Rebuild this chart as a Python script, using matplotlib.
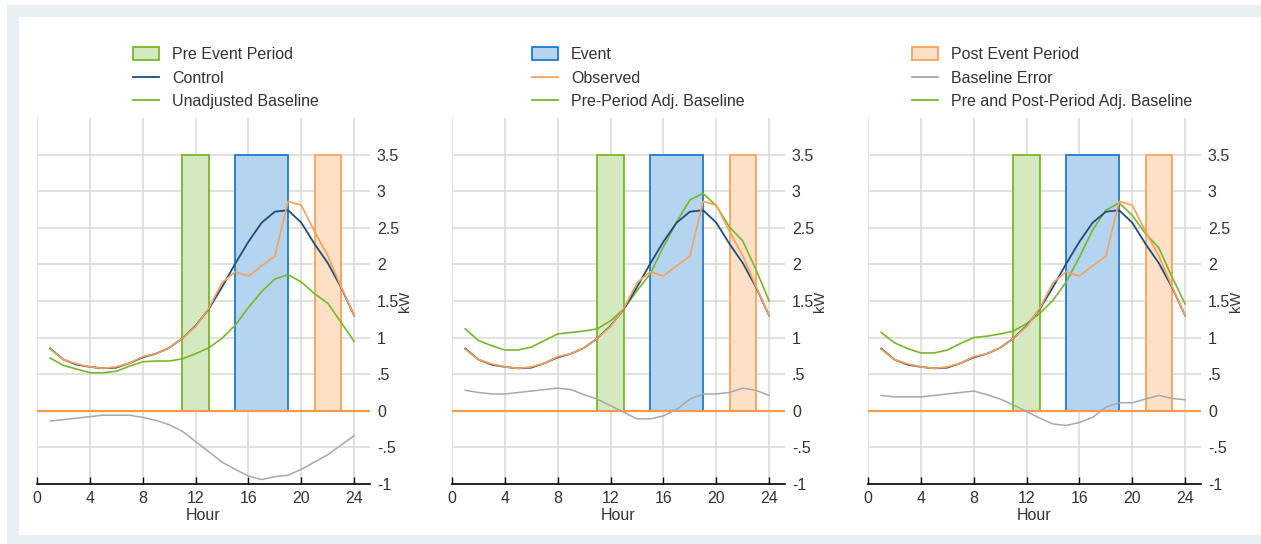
import matplotlib
matplotlib.use("Agg")
import matplotlib.pyplot as plt
from matplotlib.patches import Patch, Rectangle
from matplotlib.lines import Line2D

plt.rcParams["font.family"] = ["Liberation Sans", "DejaVu Sans"]

# ── Data ──────────────────────────────────────────────────────────────────────
hours = list(range(1, 25))

control = [0.85, 0.70, 0.63, 0.60, 0.58, 0.59, 0.65, 0.73, 0.78, 0.86, 0.99, 1.16,
           1.39, 1.69, 2.01, 2.31, 2.57, 2.72, 2.74, 2.57, 2.28, 2.02, 1.69, 1.30]
observed = [0.84, 0.70, 0.64, 0.60, 0.58, 0.60, 0.65, 0.74, 0.78, 0.86, 0.99, 1.15,
            1.40, 1.75, 1.90, 1.84, 1.98, 2.11, 2.86, 2.81, 2.45, 2.12, 1.70, 1.30]
unadjusted = [0.72, 0.62, 0.57, 0.52, 0.52, 0.54, 0.61, 0.67, 0.68, 0.68, 0.71, 0.78,
              0.86, 0.99, 1.17, 1.41, 1.63, 1.80, 1.86, 1.76, 1.60, 1.47, 1.21, 0.95]
pre_adj = [1.12, 0.96, 0.89, 0.83, 0.83, 0.87, 0.96, 1.05, 1.07, 1.09, 1.12, 1.23,
           1.39, 1.64, 1.87, 2.24, 2.58, 2.88, 2.97, 2.80, 2.51, 2.32, 1.93, 1.50]
prepost_adj = [1.07, 0.93, 0.85, 0.79, 0.79, 0.83, 0.92, 1.00, 1.02, 1.05, 1.09, 1.19,
               1.33, 1.51, 1.76, 2.10, 2.47, 2.74, 2.84, 2.67, 2.42, 2.23, 1.83, 1.46]

err_unadjusted = [-0.14, -0.12, -0.10, -0.08, -0.06, -0.06, -0.06, -0.09, -0.13, -0.19,
                  -0.28, -0.42, -0.56, -0.70, -0.80, -0.89, -0.94, -0.90, -0.88, -0.80,
                  -0.70, -0.60, -0.47, -0.34]
err_pre = [0.28, 0.25, 0.23, 0.23, 0.25, 0.27, 0.29, 0.31, 0.29, 0.22, 0.16, 0.07,
           -0.02, -0.11, -0.11, -0.07, 0.02, 0.16, 0.23, 0.23, 0.25, 0.31, 0.28, 0.21]
err_prepost = [0.21, 0.19, 0.19, 0.19, 0.21, 0.23, 0.25, 0.27, 0.22, 0.16, 0.08, -0.01,
               -0.10, -0.18, -0.20, -0.16, -0.09, 0.05, 0.11, 0.11, 0.16, 0.21, 0.17, 0.15]

baselines = [unadjusted, pre_adj, prepost_adj]
errors = [err_unadjusted, err_pre, err_prepost]

# periods: (start hour, end hour)
pre_period = (11, 13)
event_period = (15, 19)
post_period = (21, 23)
period_top = 3.5

y_ticks = [-1, -0.5, 0, 0.5, 1, 1.5, 2, 2.5, 3, 3.5]
y_ticklabels = ["-1", "-.5", "0", ".5", "1", "1.5", "2", "2.5", "3", "3.5"]
x_ticks = [0, 4, 8, 12, 16, 20, 24]

legend_labels = [
    ["Pre Event Period", "Control", "Unadjusted Baseline"],
    ["Event", "Observed", "Pre-Period Adj. Baseline"],
    ["Post Event Period", "Baseline Error", "Pre and Post-Period Adj. Baseline"],
]

# ── Styles ────────────────────────────────────────────────────────────────────
C_NAVY = "#1b4f7e"
C_ORANGE = "#f9a15a"
C_GREEN = "#76b82a"
C_GREY = "#a8a8a8"
C_GRID = "#d9d9d9"
C_TEXT = "#333333"
PRE_STYLE = dict(facecolor="#d5e9c1", edgecolor="#76b82a")
EVENT_STYLE = dict(facecolor="#b4d4ef", edgecolor="#1f7bd0")
POST_STYLE = dict(facecolor="#fde0c6", edgecolor="#f7a35c")

W, H = 1261, 544
fig = plt.figure(figsize=(W / 100, H / 100), dpi=100)

# framed background
fig.patches.append(Rectangle((7 / W, 0), 1, 1 - 5 / H, transform=fig.transFigure,
                             facecolor="#e8f0f3", edgecolor="none", zorder=-10))
fig.patches.append(Rectangle((19 / W, 9 / H), 1, 1 - 17 / H - 9 / H,
                             transform=fig.transFigure,
                             facecolor="white", edgecolor="none", zorder=-9))

ax_left = [37, 452, 868]
ax_w = 333
legend_x = [133, 532, 912]

for i in range(3):
    ax = fig.add_axes([ax_left[i] / W, 60 / H, ax_w / W, 366 / H])
    ax.set_facecolor("none")
    ax.set_xlim(0, 25.2)
    ax.set_ylim(-1, 4)

    # grid
    for y in y_ticks[1:]:
        ax.axhline(y, color=C_GRID, lw=1.1, zorder=0)
    for x in x_ticks:
        ax.axvline(x, color=C_GRID, lw=1.1, zorder=0)

    # periods
    for (s, e), st in zip([pre_period, event_period, post_period],
                          [PRE_STYLE, EVENT_STYLE, POST_STYLE]):
        ax.bar(s, period_top, width=e - s, bottom=0, align="edge", lw=1.3,
               zorder=1, **st)

    ax.axhline(0, color="#f39a4f", lw=1.6, zorder=2)

    ax.plot(hours, errors[i], color=C_GREY, lw=1.1, zorder=3)
    ax.plot(hours, baselines[i], color=C_GREEN, lw=1.2, zorder=3)
    ax.plot(hours, control, color=C_NAVY, lw=1.3, zorder=4)
    ax.plot(hours, observed, color=C_ORANGE, lw=1.2, zorder=5)

    for side in ["top", "left", "right"]:
        ax.spines[side].set_visible(False)
    ax.spines["bottom"].set_color("black")
    ax.spines["bottom"].set_linewidth(1.2)
    ax.spines["bottom"].set_zorder(6)

    ax.set_xticks(x_ticks)
    ax.tick_params(axis="x", direction="in", length=5, width=1, color="black",
                   labelsize=11.5, labelcolor=C_TEXT, pad=5)
    ax.yaxis.tick_right()
    ax.set_yticks(y_ticks)
    ax.set_yticklabels(y_ticklabels)
    ax.tick_params(axis="y", length=0, labelsize=11.5, labelcolor=C_TEXT, pad=5)
    ax.set_xlabel("Hour", fontsize=11.5, color=C_TEXT, labelpad=1.5)
    ax.text((405 - 37) / ax_w, 0.5, "kW",
            transform=ax.transAxes, rotation=90, ha="center", va="center",
            fontsize=10.5, color=C_TEXT)

    period_handle = [Patch(lw=1.3, **PRE_STYLE), Patch(lw=1.3, **EVENT_STYLE),
                     Patch(lw=1.3, **POST_STYLE)][i]
    line_handle = [Line2D([], [], color=C_NAVY, lw=1.3),
                   Line2D([], [], color=C_ORANGE, lw=1.3),
                   Line2D([], [], color=C_GREY, lw=1.3)][i]
    base_handle = Line2D([], [], color=C_GREEN, lw=1.3)
    leg = ax.legend([period_handle, line_handle, base_handle], legend_labels[i],
                    loc="upper left", bbox_to_anchor=(legend_x[i] / W, 1 - 47 / H),
                    bbox_transform=fig.transFigure, frameon=False, borderpad=0,
                    borderaxespad=0, fontsize=11.5, handlelength=1.6,
                    handleheight=0.9, handletextpad=0.85, labelspacing=0.53)
    for t in leg.get_texts():
        t.set_color(C_TEXT)

fig.savefig("out.png", dpi=100)
